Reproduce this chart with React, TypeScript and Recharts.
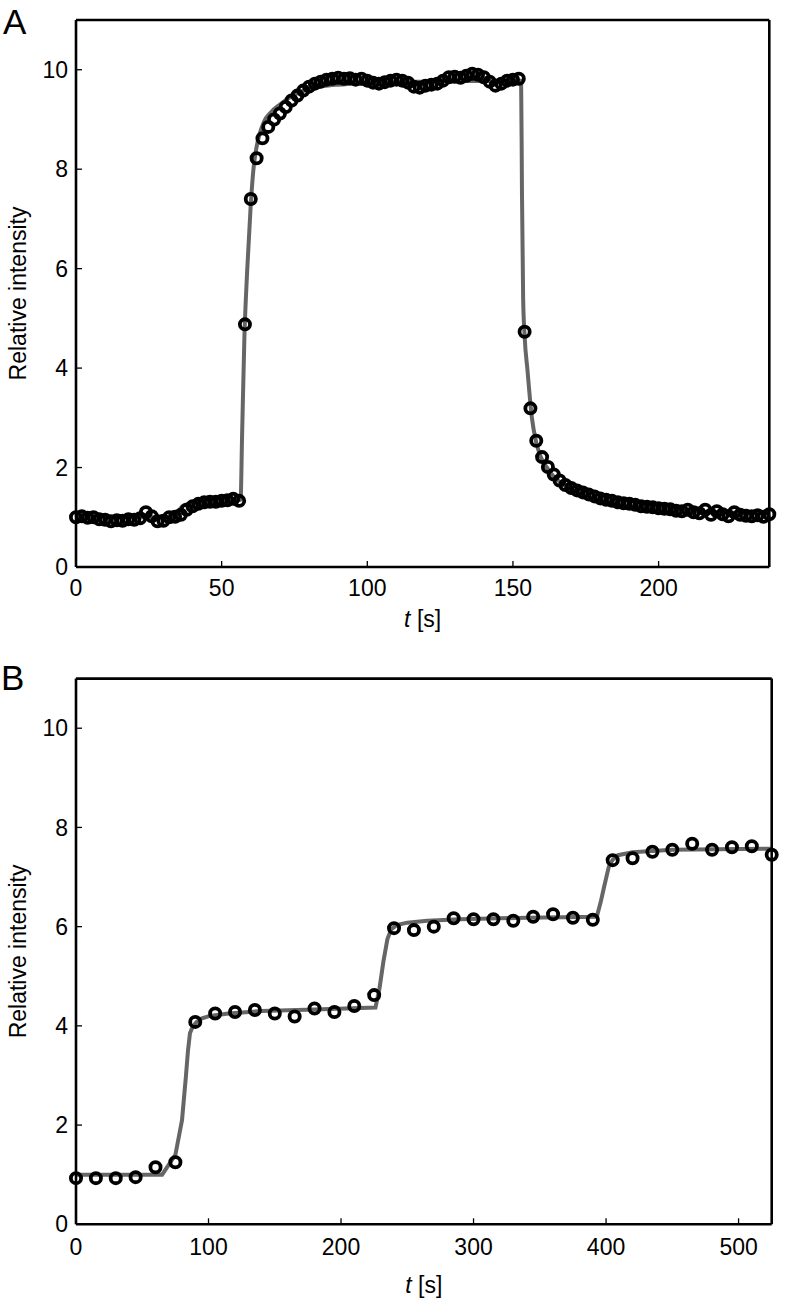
import React from 'react';
import { ComposedChart, Scatter, Line, XAxis, YAxis } from 'recharts';

const FONT = '"Liberation Sans", Arial, Helvetica, sans-serif';

// Panel A measured data (t in s, relative intensity)
const aTimes: number[] = Array.from({ length: 120 }, (_, k) => k * 2);
const aValues: number[] = [
  1.0, 1.02, 0.99, 1.0, 0.96, 0.95, 0.92, 0.94, 0.93, 0.96,
  0.95, 0.98, 1.1, 1.02, 0.92, 0.93, 1.0, 1.01, 1.05, 1.15,
  1.22, 1.27, 1.3, 1.31, 1.31, 1.33, 1.34, 1.37, 1.33, 4.88,
  7.4, 8.22, 8.62, 8.85, 9.0, 9.12, 9.25, 9.38, 9.48, 9.58,
  9.66, 9.72, 9.76, 9.8, 9.82, 9.84, 9.82, 9.83, 9.8, 9.82,
  9.78, 9.74, 9.72, 9.75, 9.78, 9.8, 9.78, 9.74, 9.66, 9.64,
  9.68, 9.7, 9.72, 9.78, 9.85, 9.86, 9.84, 9.88, 9.92, 9.9,
  9.85, 9.76, 9.68, 9.72, 9.78, 9.8, 9.82, 4.73, 3.19, 2.54,
  2.21, 2.01, 1.86, 1.74, 1.65, 1.59, 1.54, 1.5, 1.46, 1.42,
  1.38, 1.35, 1.33, 1.3, 1.28, 1.27, 1.25, 1.22, 1.21, 1.2,
  1.18, 1.17, 1.16, 1.13, 1.12, 1.15, 1.1, 1.08, 1.15, 1.05,
  1.12, 1.06, 1.02, 1.1, 1.05, 1.03, 1.02, 1.04, 1.01, 1.06,
];

// Panel A fit curve
const aFitT: number[] = [
  0, 33.5, 34.5, 35.5, 36.5, 38, 41, 48, 56.5, 57, 57.8, 58.8, 60, 61, 62, 63, 64.5, 67, 70, 73, 76, 80,
  85, 90, 100, 120, 152.8, 153.1, 153.5, 154, 155, 156.5, 158, 159.5, 162, 164, 167, 171, 175, 180, 185,
  191, 200, 209, 220, 238,
];
const aFitV: number[] = [
  1.0, 1.0, 1.06, 1.15, 1.22, 1.26, 1.29, 1.32, 1.35, 2.6, 4.6, 6.0, 7.3, 8.05, 8.45, 8.7, 8.95, 9.15, 9.3,
  9.43, 9.53, 9.61, 9.67, 9.7, 9.73, 9.76, 9.78, 7.5, 5.4, 4.65, 3.95, 3.0, 2.5, 2.22, 1.97, 1.82, 1.67,
  1.52, 1.43, 1.34, 1.28, 1.22, 1.17, 1.13, 1.1, 1.08,
];

// Panel B measured data
const bTimes: number[] = Array.from({ length: 36 }, (_, k) => k * 15);
const bValues: number[] = [
  0.93, 0.93, 0.93, 0.95, 1.15, 1.25,
  4.08, 4.25, 4.28, 4.32, 4.25, 4.19, 4.35, 4.28, 4.4, 4.62,
  5.97, 5.93, 6.0, 6.17, 6.15, 6.15, 6.12, 6.2, 6.25, 6.18, 6.14,
  7.34, 7.38, 7.51, 7.55, 7.67, 7.55, 7.6, 7.62, 7.45,
];

// Panel B fit curve
const bFitT: number[] = [
  0, 65, 75, 80, 83, 84.5, 86, 88, 91, 95, 101, 115, 140, 180, 226, 229, 232, 235, 238, 242, 250, 265,
  290, 340, 393, 396, 398.5, 402, 405, 409, 420, 450, 525,
];
const bFitV: number[] = [
  1.0, 1.0, 1.4, 2.1, 3.0, 3.5, 3.85, 3.98, 4.08, 4.15, 4.2, 4.25, 4.3, 4.33, 4.37, 4.75, 5.3, 5.75, 5.95,
  6.03, 6.08, 6.12, 6.15, 6.18, 6.2, 6.5, 6.8, 7.2, 7.35, 7.44, 7.5, 7.55, 7.57,
];

const aTicksX = [0, 50, 100, 150, 200];
const bTicksX = [0, 100, 200, 300, 400, 500];
const yTicks = [0, 2, 4, 6, 8, 10];

const zip = (t: number[], v: number[]) => t.map((x, i) => ({ t: x, v: v[i] }));

const Ring = (props: any) => {
  const { cx, cy } = props;
  if (cx == null || cy == null) return null;
  return <circle cx={cx} cy={cy} r={5.1} fill="none" stroke="#000" strokeWidth={3.8} />;
};

type PanelProps = {
  scatter: { t: number; v: number }[];
  fit: { t: number; v: number }[];
  xDomain: [number, number];
  xTicks: number[];
  height: number;
  margin: { top: number; right: number; bottom: number; left: number };
  xLabelOffset: number;
  xTickMargin: number;
  lineType: 'monotone' | 'linear';
};

const Panel = ({ scatter, fit, xDomain, xTicks, height, margin, xLabelOffset, xTickMargin, lineType }: PanelProps) => {
  const tickStyle = { fill: '#000', fontSize: 23, fontFamily: FONT };
  const axisLine = { stroke: '#000', strokeWidth: 2.6 };
  const tickLine = { stroke: '#000', strokeWidth: 1.3 };
  return (
    <ComposedChart width={786} height={height} margin={margin}>
      <XAxis
        xAxisId="b"
        dataKey="t"
        type="number"
        domain={xDomain}
        ticks={xTicks}
        orientation="bottom"
        height={30}
        tickSize={-6}
        tickMargin={xTickMargin}
        axisLine={axisLine}
        tickLine={tickLine}
        tick={tickStyle}
        label={{
          content: (p: any) => {
            const vb = p.viewBox || {};
            return (
              <text
                x={vb.x + vb.width / 2}
                y={vb.y + xLabelOffset}
                textAnchor="middle"
                fontSize={23}
                fontFamily={FONT}
                fill="#000"
              >
                <tspan fontStyle="italic">t</tspan>
                {' [s]'}
              </text>
            );
          },
        }}
      />
      <XAxis
        xAxisId="top"
        dataKey="t"
        type="number"
        domain={xDomain}
        ticks={xTicks}
        orientation="top"
        height={10}
        tickSize={-6}
        axisLine={axisLine}
        tickLine={tickLine}
        tick={false}
      />
      <YAxis
        yAxisId="l"
        dataKey="v"
        type="number"
        domain={[0, 11]}
        ticks={yTicks}
        width={70}
        tickSize={-6}
        tickMargin={14}
        axisLine={axisLine}
        tickLine={tickLine}
        tick={tickStyle}
        label={{
          content: (p: any) => {
            const vb = p.viewBox || {};
            const x = vb.x + 20;
            const y = vb.y + vb.height / 2;
            return (
              <text
                x={x}
                y={y}
                transform={`rotate(-90, ${x}, ${y})`}
                textAnchor="middle"
                fontSize={23}
                fontFamily={FONT}
                fill="#000"
              >
                Relative intensity
              </text>
            );
          },
        }}
      />
      <YAxis
        yAxisId="r"
        dataKey="v"
        type="number"
        orientation="right"
        domain={[0, 11]}
        ticks={yTicks}
        width={10}
        tickSize={-6}
        axisLine={axisLine}
        tickLine={tickLine}
        tick={false}
      />
      <Scatter
        xAxisId="b"
        yAxisId="l"
        data={scatter}
        dataKey="v"
        shape={Ring}
        isAnimationActive={false}
      />
      <Line
        xAxisId="b"
        yAxisId="l"
        data={fit}
        dataKey="v"
        type={lineType}
        stroke="#666"
        strokeWidth={4}
        dot={false}
        activeDot={false}
        isAnimationActive={false}
      />
    </ComposedChart>
  );
};

export default function App() {
  const letter = (txt: string, top: number, left: number) => (
    <div
      style={{
        position: 'absolute',
        top,
        left,
        fontFamily: FONT,
        fontSize: 35,
        lineHeight: '35px',
        color: '#000',
      }}
    >
      {txt}
    </div>
  );
  return (
    <div style={{ position: 'absolute', left: 0, top: 0, width: 786, height: 1299, background: '#fff' }}>
      <div style={{ position: 'absolute', left: 0, top: 0 }}>
        <Panel
          scatter={zip(aTimes, aValues)}
          fit={zip(aFitT, aFitV)}
          xDomain={[0, 238]}
          xTicks={aTicksX}
          height={650}
          margin={{ top: 10, right: 6.7, bottom: 53, left: 6 }}
          xLabelOffset={60}
          xTickMargin={19}
          lineType="monotone"
        />
      </div>
      <div style={{ position: 'absolute', left: 0, top: 650 }}>
        <Panel
          scatter={zip(bTimes, bValues)}
          fit={zip(bFitT, bFitV)}
          xDomain={[0, 525]}
          xTicks={bTicksX}
          height={649}
          margin={{ top: 18.6, right: 4.3, bottom: 44.7, left: 6 }}
          xLabelOffset={69}
          xTickMargin={20}
          lineType="linear"
        />
      </div>
      {letter('A', 3.6, 3)}
      {letter('B', 660.4, 1)}
    </div>
  );
}
